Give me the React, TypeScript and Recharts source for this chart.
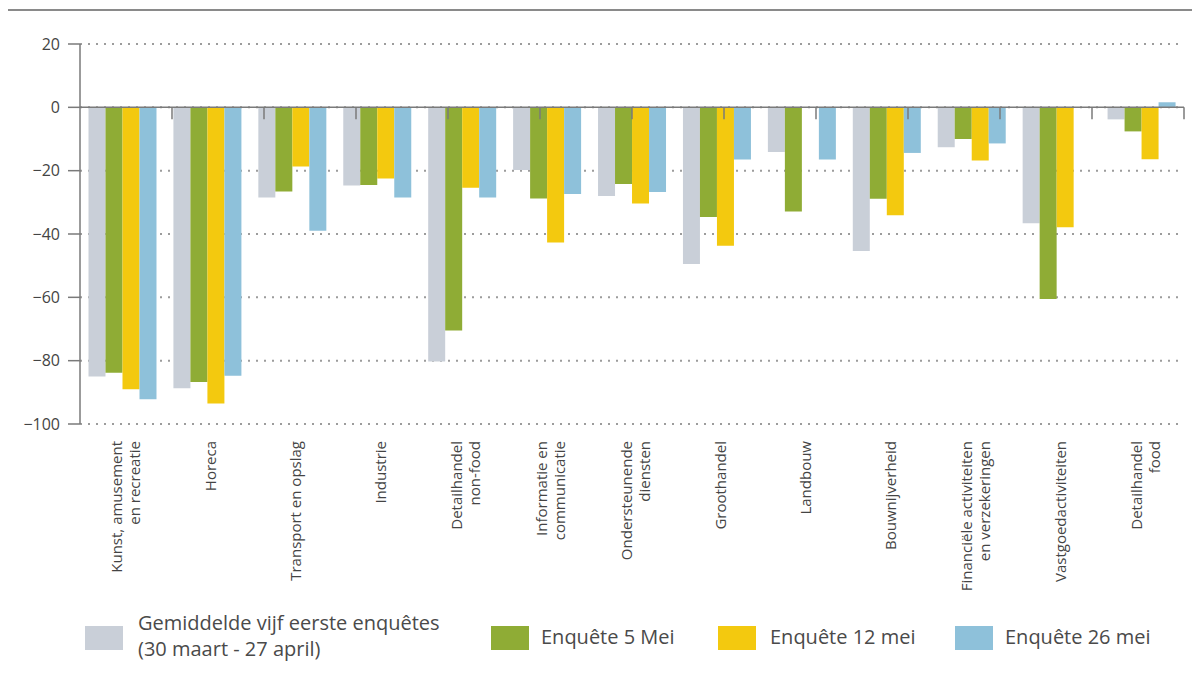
import React from 'react'
import {
  BarChart,
  Bar,
  XAxis,
  YAxis,
  CartesianGrid,
  ReferenceLine,
  Legend,
} from 'recharts'

const sectors = [
  'Kunst, amusement\nen recreatie',
  'Horeca',
  'Transport en opslag',
  'Industrie',
  'Detailhandel\nnon-food',
  'Informatie en\ncommunicatie',
  'Ondersteunende\ndiensten',
  'Groothandel',
  'Landbouw',
  'Bouwnijverheid',
  'Financiële activiteiten\nen verzekeringen',
  'Vastgoedactiviteiten',
  'Detailhandel\nfood',
]

const gemiddelde = [-85, -88.7, -28.5, -24.7, -80.3, -19.8, -28, -49.5, -14.1, -45.4, -12.6, -36.6, -3.8]
const enquete5Mei = [-83.8, -86.7, -26.6, -24.5, -70.5, -28.8, -24.2, -34.6, -32.9, -28.9, -10, -60.5, -7.6]
const enquete12Mei = [-89, -93.5, -18.7, -22.5, -25.4, -42.7, -30.4, -43.7, null, -34.1, -16.8, -37.9, -16.4]
const enquete26Mei = [-92.2, -84.8, -39, -28.5, -28.5, -27.4, -26.7, -16.5, -16.5, -14.4, -11.4, null, 1.6]

const yTicks = [20, 0, -20, -40, -60, -80, -100]

const series = [
  { key: 'gem', name: 'Gemiddelde vijf eerste enquêtes\n(30 maart - 27 april)', color: '#c9cfd8' },
  { key: 'm5', name: 'Enquête 5 Mei', color: '#8fac35' },
  { key: 'm12', name: 'Enquête 12 mei', color: '#f3c90f' },
  { key: 'm26', name: 'Enquête 26 mei', color: '#8ec1da' },
]

const data = sectors.map((s, i) => ({
  sector: s,
  gem: gemiddelde[i],
  m5: enquete5Mei[i],
  m12: enquete12Mei[i],
  m26: enquete26Mei[i],
}))

// group boundaries on the zero line
const boundaries = sectors.map((_, i) => i + 1)

const FONT = '"Open Sans", sans-serif'
const AXIS = '#7a7a7a'

function fmtY(v: number) {
  return v < 0 ? `\u2212${Math.abs(v)}` : String(v)
}

function SectorTick({ x, y, payload }: any) {
  const lines = String(payload.value).split('\n')
  const n = lines.length
  return (
    <g transform={`translate(${x},${y + 17})`}>
      <text
        transform="rotate(-90)"
        textAnchor="end"
        fill="#444"
        fontSize={15}
        fontFamily={FONT}
      >
        {lines.map((l, i) => (
          <tspan key={i} x={0} y={9 + (i - (n - 1) / 2) * 18}>
            {l}
          </tspan>
        ))}
      </text>
    </g>
  )
}

const legendPos = [
  { sq: 85, tx: 138 },
  { sq: 491, tx: 541 },
  { sq: 718, tx: 770 },
  { sq: 955, tx: 1005 },
]

function LegendContent() {
  return (
    <div style={{ position: 'relative', width: 1192, height: 60, fontFamily: FONT, color: '#4a4a4a', fontSize: 20 }}>
      {series.map((s, i) => {
        const two = s.name.includes('\n')
        return (
          <React.Fragment key={s.key}>
            <div
              style={{
                position: 'absolute',
                left: legendPos[i].sq,
                top: 16,
                width: 38,
                height: 24,
                background: s.color,
              }}
            />
            <div
              style={{
                position: 'absolute',
                left: legendPos[i].tx,
                top: two ? 0 : 14,
                lineHeight: '26px',
                whiteSpace: 'pre',
              }}
            >
              {s.name}
            </div>
          </React.Fragment>
        )
      })}
    </div>
  )
}

export default function App() {
  return (
    <div style={{ position: 'absolute', left: 0, top: 0, width: 1192, height: 680, background: '#fff', fontFamily: FONT }}>
      <div style={{ position: 'absolute', left: 8, top: 9, width: 1184, height: 2, background: '#8a8a8a' }} />
      <BarChart
        width={1192}
        height={680}
        data={data}
        margin={{ top: 44, right: 8, bottom: 10, left: 0 }}
        barCategoryGap="10%"
        barGap={0}
      >
        <CartesianGrid vertical={false} stroke="#9c9c9c" strokeWidth={2} strokeDasharray="2 6" />
        <XAxis
          dataKey="sector"
          interval={0}
          axisLine={false}
          tickLine={false}
          tickSize={0}
          tickMargin={0}
          height={186}
          tick={<SectorTick />}
        />
        <XAxis xAxisId="b" type="number" domain={[0, 13]} allowDataOverflow hide />
        <YAxis
          domain={[-100, 20]}
          ticks={yTicks}
          interval={0}
          width={80}
          tickFormatter={fmtY}
          tickSize={12}
          tickMargin={8}
          axisLine={{ stroke: AXIS, strokeWidth: 1.5 }}
          tickLine={{ stroke: AXIS, strokeWidth: 1.5 }}
          tick={{ fill: '#444', fontSize: 16, fontFamily: FONT }}
        />
        {series.map((s) => (
          <Bar key={s.key} dataKey={s.key} name={s.name} fill={s.color} isAnimationActive={false} />
        ))}
        <ReferenceLine y={0} stroke={AXIS} strokeWidth={1.5} />
        {boundaries.map((b) => (
          <ReferenceLine
            key={b}
            xAxisId="b"
            segment={[{ x: b, y: 0 }, { x: b, y: -3.8 }]}
            stroke={AXIS}
            strokeWidth={1.5}
          />
        ))}
        <Legend
          verticalAlign="bottom"
          content={<LegendContent />}
          wrapperStyle={{ left: 0, bottom: 10, width: 1192, height: 60 }}
        />
      </BarChart>
    </div>
  )
}
